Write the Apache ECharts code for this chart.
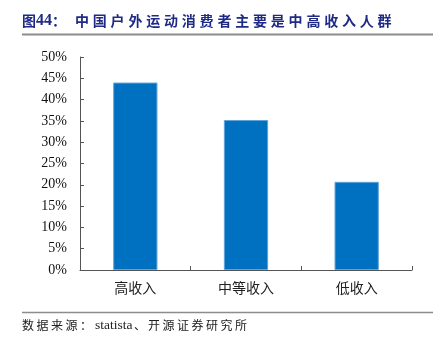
<!DOCTYPE html>
<html>
<head>
<meta charset="utf-8">
<script src="https://cdn.jsdelivr.net/npm/echarts@6/dist/echarts.min.js"></script>
<style>
  html, body { margin: 0; padding: 0; background: #fff; }
  #chart { width: 441px; height: 342px; }
</style>
</head>
<body>
<div id="chart"></div>
<script>
// Income groups and share of outdoor-sports consumers (%)
const categories = ['高收入', '中等收入', '低收入'];
const shareValues = [44.0, 35.2, 20.7];
const yTicks = [0, 5, 10, 15, 20, 25, 30, 35, 40, 45, 50];

const titleLabel = '图44：';
const titleText = '中国户外运动消费者主要是中高收入人群';
const sourceLabel = '数据来源：';
const sourceName = 'statista';
const sourceOrg = '、开源证券研究所';

const CJK_FONT = '"Noto Sans CJK SC", sans-serif';
const SERIF_FONT = '"Liberation Serif", "Times New Roman", serif';

function txt(str, x, y, font, color) {
  return {
    type: 'text', x: x, y: y,
    style: { text: str, font: font, fill: color, verticalAlign: 'middle', textVerticalAlign: 'middle' }
  };
}

// Place CJK characters one by one with wide tracking, as in report captions.
function tracked(str, x, y, advance, font, color) {
  return Array.from(str).map((ch, i) => txt(ch, x + i * advance, y, font, color));
}

const TITLE_COLOR = '#1f2a86';
const titleFont = 'bold 14px ' + CJK_FONT;
const titleEls = [
  txt(titleLabel[0], 22, 21, titleFont, TITLE_COLOR),
  txt(titleLabel.slice(1, 3), 36, 21, 'bold 16px ' + SERIF_FONT, TITLE_COLOR),
  txt(titleLabel[3], 52, 21, titleFont, TITLE_COLOR),
  ...tracked(titleText, 75, 21, 17.8, titleFont, TITLE_COLOR)
];

const srcFont = '12px ' + CJK_FONT;
const sourceEls = [
  ...tracked(sourceLabel, 22, 325, 14.5, srcFont, '#222'),
  txt(sourceName, 95, 325, '13.5px ' + SERIF_FONT, '#222'),
  txt(sourceOrg[0], 134, 325, srcFont, '#222'),
  ...tracked(sourceOrg.slice(1), 148, 325, 14.5, srcFont, '#222')
];

const chart = echarts.init(document.getElementById('chart'), null, { renderer: 'canvas' });

chart.setOption({
  animation: false,
  backgroundColor: '#fff',
  grid: { left: 80, right: 29, top: 57, bottom: 72, containLabel: false },
  xAxis: {
    type: 'category',
    data: categories,
    axisLine: { show: true, lineStyle: { color: '#555', width: 1 } },
    axisTick: { show: true, inside: true, length: 4, lineStyle: { color: '#555' } },
    axisLabel: { color: '#222', fontSize: 14, fontFamily: CJK_FONT, margin: 11 },
    splitLine: { show: false }
  },
  yAxis: {
    type: 'value',
    min: yTicks[0],
    max: yTicks[yTicks.length - 1],
    interval: yTicks[1] - yTicks[0],
    axisLine: { show: true, lineStyle: { color: '#555', width: 1 } },
    axisTick: { show: true, inside: true, length: 4, lineStyle: { color: '#555' } },
    axisLabel: {
      color: '#111', fontSize: 14, fontFamily: SERIF_FONT, margin: 13,
      formatter: v => v + '%'
    },
    splitLine: { show: false }
  },
  series: [{
    type: 'bar',
    data: shareValues,
    barWidth: '40%',
    itemStyle: { color: '#0070c0', borderColor: '#5fa3dc', borderWidth: 1 }
  }],
  graphic: [
    ...titleEls,
    { type: 'line', shape: { x1: 22, y1: 34.5, x2: 433, y2: 34.5 }, style: { stroke: '#8c8c8c', lineWidth: 2 } },
    { type: 'line', shape: { x1: 22, y1: 312.5, x2: 433, y2: 312.5 }, style: { stroke: '#8c8c8c', lineWidth: 1.5 } },
    ...sourceEls
  ]
});
</script>
</body>
</html>
